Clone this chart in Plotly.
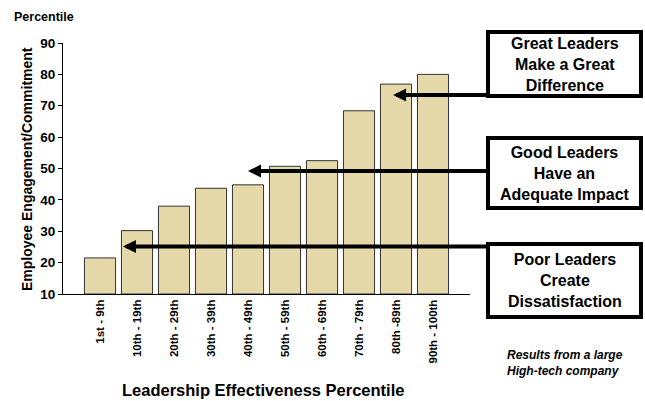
import plotly.graph_objects as go

categories = ["1st - 9th", "10th - 19th", "20th - 29th", "30th - 39th", "40th - 49th",
              "50th - 59th", "60th - 69th", "70th - 79th", "80th -89th", "90th - 100th"]
engagement = [21.5, 30.2, 38.0, 43.7, 44.8, 50.7, 52.5, 68.4, 76.9, 80.0]
y_ticks = [10, 20, 30, 40, 50, 60, 70, 80, 90]

box_texts = ["Great Leaders<br>Make a Great<br>Difference",
             "Good Leaders<br>Have an<br>Adequate Impact",
             "Poor Leaders<br>Create<br>Dissatisfaction"]
arrow_y = [73.4, 49.2, 25.1]
arrow_tip_x = [7.92, 4.0, 0.62]

W, H = 645, 401
L, R, T, B = 63, 470, 43, 294
FONT = "Arial, Liberation Sans, sans-serif"

def px_x(p):
    return (p - L) / (R - L)

def px_y(p):
    return (B - p) / (B - T)

x_idx = list(range(len(categories)))

fig = go.Figure()
fig.add_trace(go.Bar(
    x=x_idx, y=[v - 10 for v in engagement], base=10,
    width=0.84,
    marker=dict(color="#E6D9A9", line=dict(color="#333333", width=1)),
    hoverinfo="skip",
))

fig.update_layout(
    width=W, height=H,
    margin=dict(l=L, r=W - R, t=T, b=H - B, autoexpand=False),
    plot_bgcolor="white", paper_bgcolor="white",
    showlegend=False,
    font=dict(family=FONT, color="black"),
    xaxis=dict(range=[-1, 10], tickmode="array", tickvals=x_idx, ticktext=categories,
               tickangle=-90, showgrid=False, zeroline=False, showline=True,
               linecolor="black", linewidth=1, ticks="", automargin=False,
               tickfont=dict(family=FONT, size=11.5, color="black", weight="bold")),
    yaxis=dict(range=[10, 90], tickvals=y_ticks, showgrid=False, zeroline=False,
               showline=True, linecolor="black", linewidth=1, ticks="outside",
               ticklen=4, tickcolor="black", automargin=False,
               tickfont=dict(family=FONT, size=13.5, color="black", weight="bold")),
)

annotations = []
shapes = []

# boxes (pixel rectangles)
box_px = [(488, 641, 32, 96), (488, 641, 138, 208), (488, 641, 244, 317)]
for (x0, x1, y0, y1), txt in zip(box_px, box_texts):
    shapes.append(dict(type="rect", xref="paper", yref="paper",
                       x0=px_x(x0), x1=px_x(x1), y0=px_y(y1), y1=px_y(y0),
                       line=dict(color="black", width=4), fillcolor="white", layer="above"))
    annotations.append(dict(xref="paper", yref="paper", x=px_x((x0 + x1) / 2),
                            y=px_y((y0 + y1) / 2), text=txt, showarrow=False,
                            xanchor="center", yanchor="middle", align="center",
                            font=dict(family=FONT, size=16, color="black", weight="bold")))

tail_x = (488 - 100) / 37.0
for ay, tx in zip(arrow_y, arrow_tip_x):
    annotations.append(dict(xref="x", yref="y", axref="x", ayref="y",
                            x=tx, y=ay, ax=tail_x, ay=ay, text="", showarrow=True,
                            arrowhead=2, arrowsize=0.65, arrowwidth=4, arrowcolor="black",
                            standoff=0, startstandoff=0))

annotations.append(dict(xref="paper", yref="paper", x=px_x(12), y=px_y(17), text="Percentile",
                        showarrow=False, xanchor="left", yanchor="middle",
                        font=dict(family=FONT, size=12.5, color="black", weight="bold")))
annotations.append(dict(xref="paper", yref="paper", x=px_x(27), y=px_y(169),
                        text="Employee Engagement/Commitment", textangle=-90,
                        showarrow=False, xanchor="center", yanchor="middle",
                        font=dict(family=FONT, size=14, color="black", weight="bold")))
annotations.append(dict(xref="paper", yref="paper", x=px_x(263), y=px_y(390),
                        text="Leadership Effectiveness Percentile",
                        showarrow=False, xanchor="center", yanchor="middle",
                        font=dict(family=FONT, size=16.5, color="black", weight="bold")))
annotations.append(dict(xref="paper", yref="paper", x=px_x(505), y=px_y(363),
                        text="Results from a large<br>High-tech company",
                        showarrow=False, xanchor="left", yanchor="middle", align="left",
                        font=dict(family=FONT, size=12, color="black", weight="bold",
                                  style="italic")))

fig.update_layout(annotations=annotations, shapes=shapes)
fig.write_html("out.html", config={"displayModeBar": False},
               post_script="document.body.style.margin='0';")
